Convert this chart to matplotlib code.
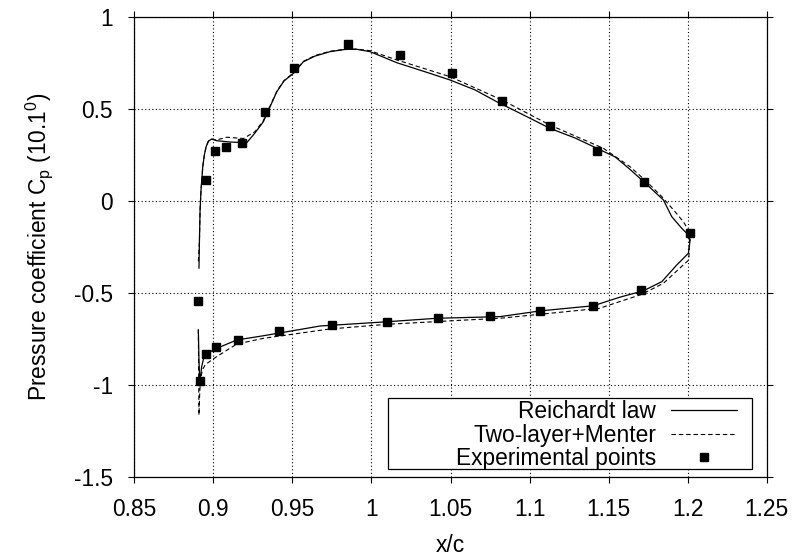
import matplotlib
matplotlib.use("Agg")
import matplotlib.pyplot as plt
from matplotlib.patches import Rectangle
from matplotlib.ticker import FuncFormatter

plt.rcParams['font.family'] = ['Liberation Sans', 'DejaVu Sans']
plt.rcParams['mathtext.fontset'] = 'custom'
plt.rcParams['mathtext.rm'] = 'Liberation Sans'
plt.rcParams['mathtext.it'] = 'Liberation Sans:italic'
plt.rcParams['axes.unicode_minus'] = False

# ---- data ----
reich_up_x = [0.8909, 0.8912, 0.8916, 0.8922, 0.8933, 0.8943, 0.8954, 0.8969, 0.8990, 0.9021,
              0.9105, 0.9211, 0.9263, 0.9316, 0.9401, 0.9447, 0.9506, 0.9569, 0.9643, 0.9738,
              0.9833, 0.9907, 0.9991, 1.0160, 1.0370, 1.0497, 1.0655, 1.0792, 1.1003, 1.1129,
              1.1287, 1.1425, 1.1541, 1.1635, 1.1726, 1.1846, 1.1899, 1.1962, 1.2004, 1.2015]
reich_up_y = [-0.366, -0.214, -0.051, 0.058, 0.185, 0.248, 0.293, 0.324, 0.335, 0.326,
              0.319, 0.315, 0.368, 0.429, 0.592, 0.651, 0.692, 0.755, 0.786, 0.810,
              0.822, 0.823, 0.810, 0.750, 0.692, 0.656, 0.602, 0.538, 0.448, 0.393,
              0.341, 0.285, 0.238, 0.170, 0.100, 0.004, -0.087, -0.150, -0.186, -0.214]

reich_lo_x = [0.8905, 0.8909, 0.8914, 0.8920, 0.8926, 0.8941, 0.8979, 0.9042, 0.9148, 0.9316,
              0.9527, 0.9675, 1.0096, 1.0413, 1.0813, 1.1066, 1.1403, 1.1572, 1.1719, 1.1836,
              1.1931, 1.2004, 1.2015]
reich_lo_y = [-0.703, -0.866, -0.985, -0.947, -0.902, -0.848, -0.821, -0.795, -0.757, -0.734,
              -0.703, -0.681, -0.658, -0.639, -0.630, -0.599, -0.571, -0.524, -0.490, -0.440,
              -0.349, -0.286, -0.214]

tl_up_x = [0.8905, 0.8912, 0.8916, 0.8922, 0.8933, 0.8943, 0.8954, 0.8969, 0.8990, 0.9021,
           0.9085, 0.9190, 0.9263, 0.9316, 0.9401, 0.9447, 0.9506, 0.9569, 0.9643, 0.9738,
           0.9833, 0.9907, 0.9991, 1.0160, 1.0497, 1.0826, 1.1129, 1.1466, 1.1635, 1.1741,
           1.1836, 1.1920, 1.1972, 1.2004, 1.2011]
tl_up_y = [-0.330, -0.214, -0.051, 0.058, 0.185, 0.248, 0.293, 0.324, 0.335, 0.330,
           0.345, 0.338, 0.375, 0.435, 0.594, 0.653, 0.694, 0.757, 0.789, 0.812,
           0.823, 0.824, 0.815, 0.765, 0.674, 0.547, 0.411, 0.285, 0.185, 0.103,
           0.022, -0.060, -0.114, -0.159, -0.214]

tl_lo_x = [0.8905, 0.8907, 0.8909, 0.8913, 0.8918, 0.8930, 0.8950, 0.9020, 0.9148, 0.9316,
           0.9738, 1.0096, 1.0518, 1.0813, 1.1441, 1.1706, 1.1846, 1.1972, 1.2007, 1.2011]
tl_lo_y = [-0.700, -0.950, -1.165, -1.060, -0.980, -0.920, -0.890, -0.848, -0.779, -0.748,
           -0.697, -0.672, -0.652, -0.639, -0.585, -0.510, -0.449, -0.349, -0.322, -0.214]

exp_x = [0.8952, 0.9012, 0.9082, 0.9183, 0.9329, 0.9512, 0.9854, 1.0182, 1.0508, 1.0824,
         1.1131, 1.1429, 1.1726, 1.2017, 1.1707, 1.1403, 1.1066, 1.0750, 1.0423, 1.0096,
         0.9752, 0.9417, 0.9158, 0.9017, 0.8955, 0.8917, 0.8905]
exp_y = [0.111, 0.272, 0.292, 0.312, 0.480, 0.720, 0.850, 0.790, 0.692, 0.542,
         0.408, 0.272, 0.100, -0.177, -0.487, -0.571, -0.599, -0.627, -0.639, -0.658,
         -0.676, -0.710, -0.759, -0.797, -0.832, -0.978, -0.547]

x_ticks = [0.85, 0.9, 0.95, 1.0, 1.05, 1.1, 1.15, 1.2, 1.25]
y_ticks = [-1.5, -1.0, -0.5, 0.0, 0.5, 1.0]

# ---- figure ----
W, H = 793, 559
fig = plt.figure(figsize=(W / 100, H / 100), dpi=100)
ax = fig.add_axes([134.3 / W, 1 - 476.7 / H, 632.5 / W, 460 / H])

FS = 16.4
dash = (0, (4.0, 2.6))

ax.plot(reich_up_x, reich_up_y, color='black', lw=0.9, label='Reichardt law', zorder=3)
ax.plot(reich_lo_x, reich_lo_y, color='black', lw=0.9, zorder=3)
ax.plot(tl_up_x, tl_up_y, color='black', lw=0.8, ls=dash, label='Two-layer+Menter', zorder=3)
ax.plot(tl_lo_x, tl_lo_y, color='black', lw=0.8, ls=dash, zorder=3)
ax.plot(exp_x, exp_y, ls='none', marker='s', ms=5.2, color='black',
        label='Experimental points', zorder=4)

ax.set_xlim(0.85, 1.25)
ax.set_ylim(-1.5, 1.0)
ax.set_xticks(x_ticks)
ax.set_yticks(y_ticks)
fmt = FuncFormatter(lambda v, p: '%g' % round(v, 4))
ax.xaxis.set_major_formatter(fmt)
ax.yaxis.set_major_formatter(fmt)

ax.grid(True, color='black', lw=0.8, ls=(0, (1, 2.2)), zorder=1)
ax.tick_params(which='both', direction='out', length=4.3, width=0.8,
               top=True, right=True, labelsize=FS, pad=11.3, color='black')
for s in ax.spines.values():
    s.set_linewidth(0.9)
    s.set_color('black')

ax.set_xlabel('x/c', fontsize=FS)
ax.xaxis.set_label_coords(0.5, (476.7 - 534) / 460)
ax.xaxis.label.set_va('top')
ax.set_ylabel('Pressure coefficient C$_{\\mathregular{p}}$ (10.1$^{\\mathregular{0}}$)', fontsize=FS)
ax.yaxis.set_label_coords((55 - 134.3) / 632.5, 0.5)

# legend box (white, as in the reference)
rx0 = (388 - 134.3) / 632.5
rx1 = (752 - 134.3) / 632.5
ry0 = (476.7 - 469) / 460
ry1 = (476.7 - 398) / 460
ax.add_patch(Rectangle((rx0, ry0), rx1 - rx0, ry1 - ry0, transform=ax.transAxes,
                       facecolor='white', edgecolor='black', lw=0.9, zorder=5))
leg = ax.legend(loc='lower right', bbox_to_anchor=((737 - 134.3) / 632.5, (476.7 - 470) / 460),
                frameon=False, markerfirst=False, fontsize=FS, borderpad=0, borderaxespad=0,
                labelspacing=0.02, handlelength=2.9, handletextpad=0.65, handleheight=0.7)
leg.set_zorder(6)

fig.savefig('out.png', dpi=100)
